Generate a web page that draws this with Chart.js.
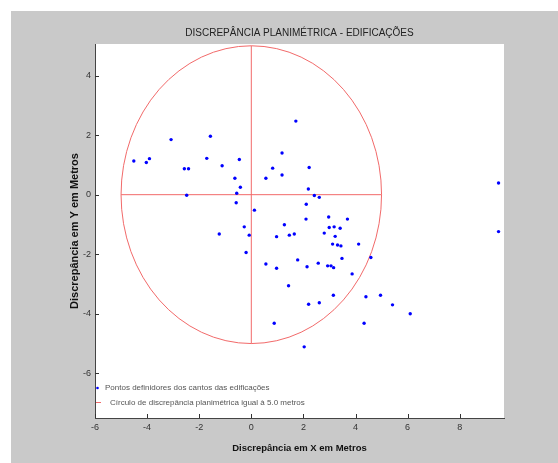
<!DOCTYPE html>
<html><head><meta charset="utf-8">
<script src="https://cdn.jsdelivr.net/npm/chart.js@4/dist/chart.umd.min.js"></script>
<style>html,body{margin:0;padding:0;background:#ffffff;overflow:hidden}</style>
</head><body>
<canvas id="c" width="558" height="463" style="display:block;width:558px;height:463px"></canvas>
<script>
const titleText = 'DISCREPÂNCIA PLANIMÉTRICA - EDIFICAÇÕES';
const xAxisTitle = 'Discrepância em X em Metros';
const yAxisTitle = 'Discrepância em Y em Metros';
const legendPoints = 'Pontos definidores dos cantos das edificações';
const legendCircle = 'Círculo de discrepância planimétrica igual à 5.0 metros';
const xTicks = [-6, -4, -2, 0, 2, 4, 6, 8];
const yTicks = [-6, -4, -2, 0, 2, 4];
const xRange = [-6, 9.7];
const yRange = [-7.5, 5.06];
const circleRadius = 5;

const discX = [-3.08,-1.57,-4.51,-4.03,-3.91,-2.57,-2.41,-1.71,-1.12,-0.46,
  0.82,0.56,-0.63,-0.42,-0.56,-2.48,-0.58,0.12,1.71,1.18,
  2.22,1.18,2.19,2.42,2.61,2.11,2.10,2.97,3.69,-0.27,
  1.27,2.99,3.18,3.41,-1.23,-0.08,0.97,1.46,1.65,2.80,
  3.22,3.12,3.31,3.44,4.12,-0.20,3.48,4.59,0.56,0.97,
  1.78,2.14,2.57,2.93,3.06,3.16,3.87,1.43,3.15,4.40,
  4.96,5.42,6.10,2.20,2.61,0.88,4.33,2.03,9.49,9.49];
const discY = [1.85,1.96,1.13,1.08,1.21,0.87,0.87,1.22,0.97,1.18,
  0.89,0.55,0.55,0.25,0.05,-0.02,-0.27,-0.52,2.47,1.40,
  0.91,0.66,0.19,-0.03,-0.09,-0.32,-0.82,-0.75,-0.82,-1.08,
  -1.01,-1.10,-1.08,-1.13,-1.32,-1.36,-1.41,-1.36,-1.32,-1.29,
  -1.40,-1.66,-1.69,-1.72,-1.66,-1.94,-2.14,-2.11,-2.33,-2.47,
  -2.19,-2.42,-2.30,-2.39,-2.39,-2.45,-2.66,-3.06,-3.38,-3.43,
  -3.38,-3.70,-4.00,-3.68,-3.63,-4.32,-4.32,-5.11,0.39,-1.24];

const RED = '#f26a6a';
const BLUE = '#0000ff';

const decor = {
  id: 'decor',
  beforeDraw(chart) {
    const {ctx, chartArea: a} = chart;
    ctx.save();
    ctx.fillStyle = '#ffffff';
    ctx.fillRect(0, 0, chart.width, chart.height);
    ctx.fillStyle = '#c9c9c9';
    ctx.fillRect(11, 11, chart.width - 11, chart.height - 11);
    ctx.fillStyle = '#ffffff';
    ctx.fillRect(a.left, a.top, a.right - a.left, a.bottom - a.top);
    ctx.restore();
  },
  beforeDatasetsDraw(chart) {
    const {ctx} = chart;
    const sx = chart.scales.x, sy = chart.scales.y;
    const cx = sx.getPixelForValue(0), cy = sy.getPixelForValue(0);
    const rx = Math.abs(sx.getPixelForValue(circleRadius) - cx);
    const ry = Math.abs(sy.getPixelForValue(circleRadius) - cy);
    ctx.save();
    ctx.strokeStyle = RED;
    ctx.lineWidth = 1;
    ctx.beginPath();
    ctx.ellipse(cx, cy, rx, ry, 0, 0, Math.PI * 2);
    ctx.stroke();
    ctx.beginPath();
    ctx.moveTo(sx.getPixelForValue(-circleRadius), cy);
    ctx.lineTo(sx.getPixelForValue(circleRadius), cy);
    ctx.moveTo(cx, sy.getPixelForValue(circleRadius));
    ctx.lineTo(cx, sy.getPixelForValue(-circleRadius));
    ctx.stroke();
    ctx.restore();
  },
  afterDraw(chart) {
    const {ctx, chartArea: a} = chart;
    const sx = chart.scales.x, sy = chart.scales.y;
    ctx.save();
    ctx.strokeStyle = '#333';
    ctx.lineWidth = 1;
    ctx.beginPath();
    xTicks.forEach(v => {
      const p = Math.round(sx.getPixelForValue(v)) + 0.5;
      ctx.moveTo(p, a.bottom); ctx.lineTo(p, a.bottom - 4);
    });
    yTicks.forEach(v => {
      const p = Math.round(sy.getPixelForValue(v)) + 0.5;
      ctx.moveTo(a.left, p); ctx.lineTo(a.left + 4, p);
    });
    ctx.stroke();
    // legend
    ctx.font = '8px "Liberation Sans", Arial, sans-serif';
    ctx.textBaseline = 'middle';
    ctx.fillStyle = BLUE;
    ctx.beginPath();
    ctx.arc(a.left + 2.5, a.bottom - 30, 1.3, 0, Math.PI * 2);
    ctx.fill();
    ctx.fillStyle = '#555';
    ctx.fillText(legendPoints, a.left + 10, a.bottom - 30);
    ctx.strokeStyle = RED;
    ctx.beginPath();
    ctx.moveTo(a.left + 1, a.bottom - 15.5);
    ctx.lineTo(a.left + 6, a.bottom - 15.5);
    ctx.stroke();
    ctx.fillText(legendCircle, a.left + 15, a.bottom - 15);
    ctx.restore();
  }
};

const tickFont = {family: '"Liberation Sans", Arial, sans-serif', size: 9};

new Chart(document.getElementById('c'), {
  type: 'scatter',
  data: {
    datasets: [{
      label: legendPoints,
      data: discX.map((x, i) => ({x, y: discY[i]})),
      backgroundColor: BLUE,
      borderColor: BLUE,
      pointRadius: 1.7,
      pointHoverRadius: 1.7,
      pointBorderWidth: 0
    }]
  },
  plugins: [decor],
  options: {
    responsive: false,
    animation: false,
    devicePixelRatio: 1,
    layout: {padding: {left: 0, right: 54, top: 0, bottom: 0}},
    plugins: {
      legend: {display: false},
      tooltip: {enabled: false},
      title: {
        display: true,
        text: titleText,
        fullSize: false,
        color: '#222',
        font: {family: '"Liberation Sans", Arial, sans-serif', size: 10, weight: 'normal', lineHeight: '12px'},
        padding: {top: 27, bottom: 5}
      }
    },
    scales: {
      x: {
        type: 'linear',
        min: xRange[0], max: xRange[1],
        afterBuildTicks: s => { s.ticks = xTicks.map(v => ({value: v})); },
        afterFit: s => { s.height = 45; },
        grid: {display: false, drawTicks: false},
        border: {display: true, color: '#444', width: 1},
        ticks: {font: tickFont, color: '#333', padding: 4, maxRotation: 0, autoSkip: false},
        title: {display: true, text: xAxisTitle, color: '#111',
          font: {family: '"Liberation Sans", Arial, sans-serif', size: 9.5, weight: 'bold', lineHeight: '12px'},
          padding: {top: 0, bottom: 9}}
      },
      y: {
        type: 'linear',
        min: yRange[0], max: yRange[1],
        afterBuildTicks: s => { s.ticks = yTicks.map(v => ({value: v})); },
        afterFit: s => { s.width = 95; },
        grid: {display: false, drawTicks: false},
        border: {display: true, color: '#444', width: 1},
        ticks: {font: tickFont, color: '#333', padding: 4, autoSkip: false},
        title: {display: true, text: yAxisTitle, color: '#111',
          font: {family: '"Liberation Sans", Arial, sans-serif', size: 11, weight: 'bold', lineHeight: '12px'},
          padding: {top: 69, bottom: 0}}
      }
    }
  }
});
</script>
</body></html>
